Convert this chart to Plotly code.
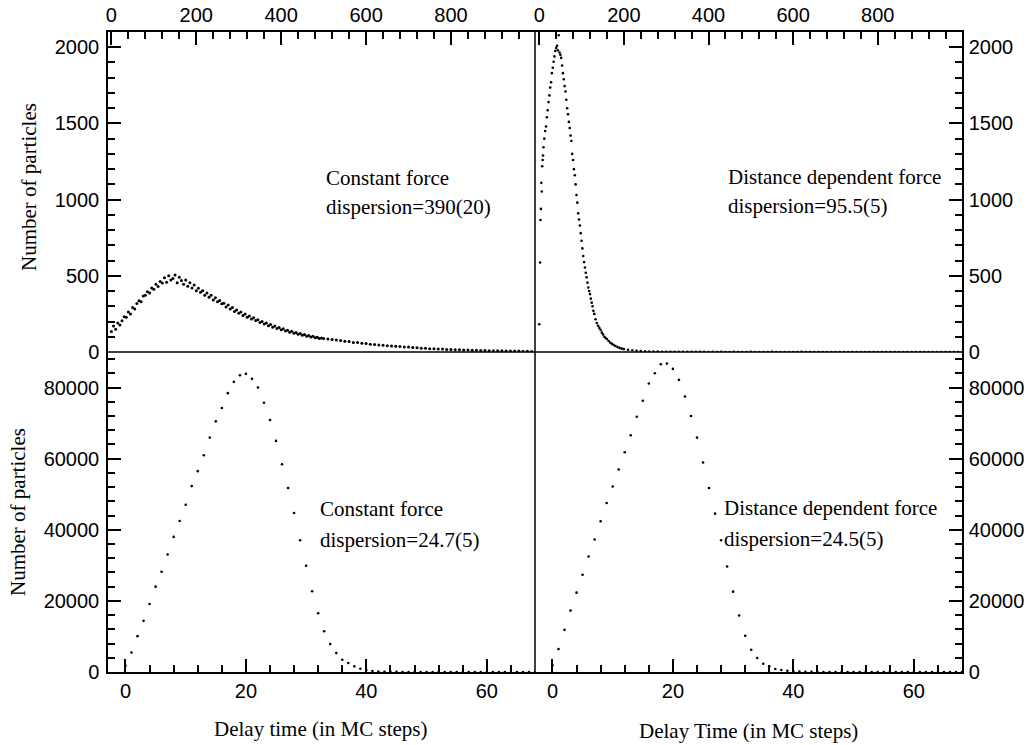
import plotly.graph_objects as go

# ---------------- data ----------------
# top-left: constant force (top axis scale 0..1000)
tl_x = list(range(0, 505, 5)) + list(range(510, 1010, 10))
tl_y = [135, 170, 150, 190, 178, 205, 232, 228, 262, 250,
        292, 283, 318, 336, 330, 368, 372, 395, 388, 420,
        412, 445, 430, 462, 452, 488, 458, 500, 472, 482,
        505, 455, 490, 470, 445, 472, 432, 455, 420, 440,
        402, 418, 392, 402, 372, 388, 360, 372, 342, 356,
        330, 338, 316, 320, 296, 308, 282, 292, 266, 276,
        254, 262, 240, 250, 228, 236, 216, 224, 206, 212,
        194, 200, 184, 190, 172, 180, 162, 170, 154, 160,
        146, 152, 138, 143, 130, 136, 123, 128, 116, 121,
        110, 115, 104, 108, 98, 103, 93, 97, 88, 92,
        88,
        86, 82, 78, 75, 70, 69, 63, 62, 57, 56,
        51, 50, 46, 45, 41, 40, 37, 36, 33, 32,
        29, 28, 25, 25, 22, 22, 19, 19, 17, 17,
        15, 15, 13, 13, 12, 12, 10, 10, 9, 9,
        8, 8, 7, 7, 6, 6, 5, 5, 4, 4]

# top-right: distance dependent force (top axis scale 0..1000)
tr_x = [0, 2, 3, 4, 5, 6, 7, 8, 9, 10,
        12, 14, 16, 18, 20, 22, 24, 26, 28, 30,
        32, 34, 36, 38, 40, 42, 44, 46, 48, 50,
        52, 54, 56, 58, 60, 62, 64, 66, 68, 70,
        72, 74, 76, 78, 80, 82, 84, 86, 88, 90,
        92, 94, 96, 98, 100, 102, 104, 106, 108, 110,
        112, 114, 116, 118, 120, 122, 124, 126, 128, 130,
        133, 136, 139, 142, 145, 148, 151, 154, 157, 160,
        164, 168, 172, 176, 180, 185, 190, 195, 200,
        210, 220, 230, 240, 250] + list(range(260, 1010, 10))
tr_y = [182, 587, 866, 939, 1110, 1053, 1219, 1260, 1290, 1344,
        1400, 1450, 1480, 1541, 1586, 1640, 1684, 1735, 1770, 1830,
        1865, 1905, 1940, 1975, 1995, 2009, 1980, 2079, 1965, 1950,
        1930, 1880, 1830, 1790, 1745, 1710, 1655, 1600, 1560, 1510,
        1470, 1420, 1385, 1300, 1260, 1200, 1160, 1100, 1030, 980,
        910, 870, 830, 780, 730, 680, 630, 590, 555, 520,
        490, 455, 423, 400, 380, 350, 324, 300, 270, 250,
        215, 190, 172, 158, 145, 127, 115, 100, 92, 85,
        72, 61, 53, 46, 39, 32, 27, 22, 19,
        14, 11, 8, 6, 4,
        3, 3, 3, 2, 2, 2, 2, 1, 1, 1,
        1, 1, 1, 1, 0, 1, 0, 1, 0, 0,
        1, 0, 0, 0, 1, 0, 0, 0, 0, 1,
        0, 0, 0, 0, 0, 0, 1, 0, 0, 0,
        0, 0, 0, 0, 0, 0, 0, 0, 0, 0,
        0, 0, 0, 0, 0, 0, 0, 0, 0, 0,
        0, 0, 0, 0, 0, 0, 0, 0, 0, 0,
        0, 0, 0, 0, 0]

# bottom-left: constant force (delay time in MC steps)
bl_x = list(range(0, 69))
bl_y = [1770, 5500, 10080, 14380, 19140, 24000, 28200, 33050, 38000, 42480,
        47060, 52290, 56490, 60970, 65920, 70500, 74230, 78430, 81600, 83470,
        83850, 82450, 80020, 75720, 70870, 64990, 58450, 51730, 44720, 37070,
        29880, 22690, 16530, 11480, 7840, 5320, 3450, 2520, 1590, 930,
        560, 300, 160, 90, 50, 30, 20, 10, 10, 5,
        5, 0, 0, 0, 0, 0, 0, 0, 0, 0,
        0, 0, 0, 0, 0, 0, 0, 0, 0]

# bottom-right: distance dependent force
br_x = list(range(0, 69))
br_y = [1870, 6440, 11860, 17270, 22320, 27360, 32490, 37250, 42390, 47530,
        52190, 56950, 61810, 66570, 71800, 76280, 81140, 84030, 86550, 86740,
        85250, 82170, 77500, 71990, 65920, 58920, 51730, 44540, 37070, 29690,
        22600, 15870, 10180, 6260, 3920, 2330, 1590, 840, 560, 370,
        200, 120, 60, 30, 20, 10, 5, 5, 0, 0,
        0, 0, 0, 0, 0, 0, 0, 0, 0, 0,
        0, 0, 0, 0, 0, 0, 0, 0, 0]

labels = {
    "tl": ["Constant force", "dispersion=390(20)"],
    "tr": ["Distance dependent force", "dispersion=95.5(5)"],
    "bl": ["Constant force", "dispersion=24.7(5)"],
    "br": ["Distance dependent force", "dispersion=24.5(5)"],
}
ytitle = "Number of particles"
xtitle_left = "Delay time (in MC steps)"
xtitle_right = "Delay Time (in MC steps)"

# ---------------- figure ----------------
SANS = "Liberation Sans, Arial, sans-serif"
SERIF = "Liberation Serif, Times New Roman, serif"
tickfont = dict(family=SANS, size=20, color="black")

fig = go.Figure()
mk = dict(color="black", size=2.6, line=dict(width=0))
mk_tl = dict(color="black", size=3, line=dict(width=0))
fig.add_trace(go.Scatter(x=tl_x, y=tl_y, mode="markers", marker=mk_tl, xaxis="x", yaxis="y"))
fig.add_trace(go.Scatter(x=tr_x, y=tr_y, mode="markers", marker=mk, xaxis="x2", yaxis="y2"))
fig.add_trace(go.Scatter(x=bl_x, y=bl_y, mode="markers", marker=mk, xaxis="x3", yaxis="y3"))
fig.add_trace(go.Scatter(x=br_x, y=br_y, mode="markers", marker=mk, xaxis="x4", yaxis="y4"))


def minor(d):
    return dict(ticks="inside", ticklen=7, tickwidth=1.5, tickcolor="black", dtick=d, tick0=0,
                showgrid=False)


def ax(**kw):
    d = dict(showline=True, linecolor="black", linewidth=1.5, ticks="inside", ticklen=13,
             tickwidth=1.5, tickcolor="black", showgrid=False, zeroline=False,
             tickfont=tickfont, tickformat="d", tick0=0, automargin=False)
    d.update(kw)
    return d


fig.update_layout(
    width=1032, height=745,
    margin=dict(l=108, r=70, t=32, b=73),
    paper_bgcolor="white", plot_bgcolor="white", showlegend=False,
    xaxis=ax(domain=[0, 0.5], anchor="y", side="top", range=[-8, 998], dtick=200,
             minor=minor(40)),
    yaxis=ax(domain=[0.5, 1], anchor="x", range=[0, 2100], dtick=500,
             minor=minor(100), ticklabelstandoff=3),
    xaxis2=ax(domain=[0.5, 1], anchor="y2", side="top", range=[-10, 999], dtick=200,
              minor=minor(40)),
    yaxis2=ax(domain=[0.5, 1], anchor="x2", side="right", range=[0, 2100], dtick=500,
              minor=minor(100), ticklabelstandoff=1),
    xaxis3=ax(domain=[0, 0.5], anchor="y3", range=[-2.9, 68], dtick=20,
              minor=minor(4)),
    yaxis3=ax(domain=[0, 0.5], anchor="x3", range=[0, 90000], dtick=20000,
              minor=minor(4000), ticklabelstandoff=3),
    xaxis4=ax(domain=[0.5, 1], anchor="y4", range=[-2.9, 68], dtick=20,
              minor=minor(4)),
    yaxis4=ax(domain=[0, 0.5], anchor="x4", side="right", range=[0, 90000], dtick=20000,
              minor=minor(4000), ticklabelstandoff=1),
)

# cross dividing the four panels
fig.add_shape(type="line", xref="paper", yref="paper", x0=0.5, x1=0.5, y0=0, y1=1,
              line=dict(color="black", width=1.5))
fig.add_shape(type="line", xref="paper", yref="paper", x0=0, x1=1, y0=0.5, y1=0.5,
              line=dict(color="black", width=1.5))


# plot area in pixels: left 108, width 854, bottom 672, height 640
def px(x):
    return (x - 108) / 854


def py(y):
    return (672 - y) / 640


ann = []
pos = {"tl": (324, 178, 207), "tr": (726, 177, 206), "bl": (318, 509, 540), "br": (722, 508, 539)}
for k, (x0, y1, y2) in pos.items():
    for txt, yy in zip(labels[k], (y1, y2)):
        ann.append(dict(text=txt, xref="paper", yref="paper", x=px(x0), y=py(yy),
                        xanchor="left", yanchor="middle", showarrow=False,
                        font=dict(family=SERIF, size=21, color="black")))

ann.append(dict(text=ytitle, xref="paper", yref="paper", x=px(29.5), y=py(187.5), textangle=-90,
                xanchor="center", yanchor="middle", showarrow=False,
                font=dict(family=SERIF, size=21, color="black")))
ann.append(dict(text=ytitle, xref="paper", yref="paper", x=px(18), y=py(512), textangle=-90,
                xanchor="center", yanchor="middle", showarrow=False,
                font=dict(family=SERIF, size=21, color="black")))
ann.append(dict(text=xtitle_left, xref="paper", yref="paper", x=px(320), y=py(729),
                xanchor="center", yanchor="middle", showarrow=False,
                font=dict(family=SERIF, size=21, color="black")))
ann.append(dict(text=xtitle_right, xref="paper", yref="paper", x=px(748.5), y=py(731),
                xanchor="center", yanchor="middle", showarrow=False,
                font=dict(family=SERIF, size=21, color="black")))
fig.update_layout(annotations=ann)

fig.write_html("out.html", post_script="document.body.style.margin='0px';",
               config={"displayModeBar": False})
